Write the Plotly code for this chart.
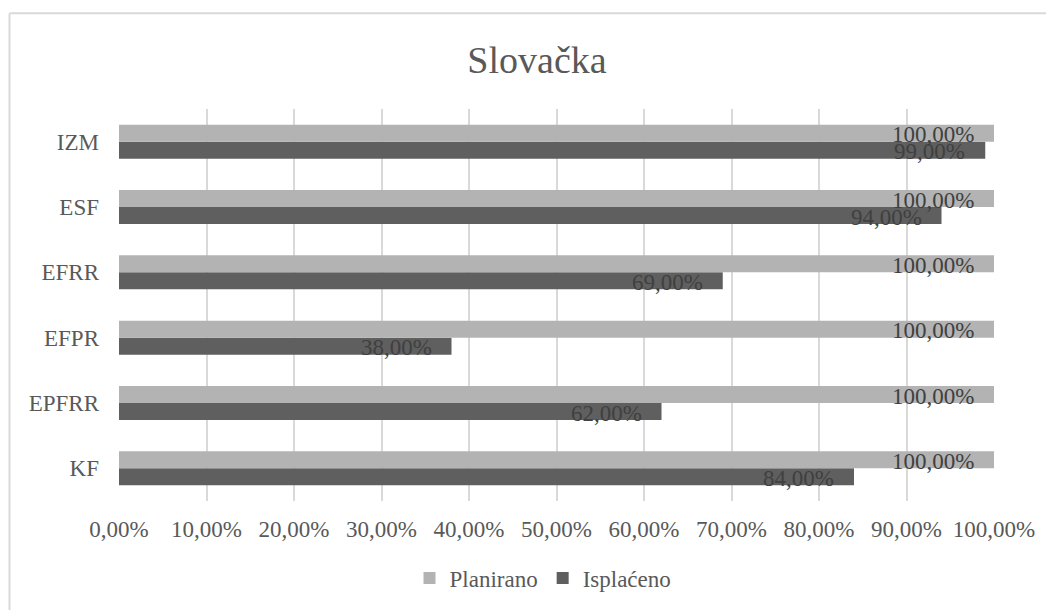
import plotly.graph_objects as go

categories = ["KF", "EPFRR", "EFPR", "EFRR", "ESF", "IZM"]
planirano = [100, 100, 100, 100, 100, 100]
isplaceno = [84, 62, 38, 69, 94, 99]
tick_vals = [0, 10, 20, 30, 40, 50, 60, 70, 80, 90, 100]
tick_text = [f"{v},00%" for v in tick_vals]

LIGHT = "#b3b3b3"
DARK = "#5f5f5f"
TXT = "#595959"
LBL = "#404040"
FONT = "Liberation Serif"

# page body adds an 8px offset; figure is sized to compensate
W, H = 1046, 602
L, T, R, B = 111, 101, 60, 108
PW = W - L - R
PH = H - T - B

fig = go.Figure()
fig.add_trace(go.Bar(y=categories, x=isplaceno, name="Isplaćeno", orientation="h",
                     marker=dict(color=DARK, line=dict(width=0))))
fig.add_trace(go.Bar(y=categories, x=planirano, name="Planirano", orientation="h",
                     marker=dict(color=LIGHT, line=dict(width=0))))

annotations = []
for c, p, i in zip(categories, planirano, isplaceno):
    annotations.append(dict(x=p, y=c, xref="x", yref="y", text=f"{p},00%", showarrow=False,
                            xanchor="right", yanchor="middle", xshift=-18, yshift=7,
                            font=dict(family=FONT, size=23, color=LBL)))
    annotations.append(dict(x=i, y=c, xref="x", yref="y", text=f"{i},00%", showarrow=False,
                            xanchor="right", yanchor="middle", xshift=-18, yshift=-10,
                            font=dict(family=FONT, size=23, color=LBL)))

bx = (1.5 - L) / PW
by = 1 + (T - 5) / PH

fig.update_layout(
    width=W, height=H,
    margin=dict(l=L, r=R, t=T, b=B),
    paper_bgcolor="white", plot_bgcolor="white",
    barmode="group", bargap=0.48, bargroupgap=0,
    title=dict(text="Slovačka", x=(537 - 8 - L) / PW, xanchor="center",
               y=1 - 52 / H, yanchor="middle", xref="paper", yref="container",
               font=dict(family=FONT, size=38, color=TXT)),
    font=dict(family=FONT, size=23, color=TXT),
    showlegend=True,
    legend=dict(orientation="h", x=(543 - 8 - L) / PW, xanchor="center",
                y=-(570 - T - PH) / PH, yanchor="middle",
                traceorder="reversed", font=dict(family=FONT, size=23, color=TXT),
                itemwidth=30, tracegroupgap=0),
    annotations=annotations,
    shapes=[
        dict(type="line", xref="paper", yref="paper", x0=bx, x1=1.2, y0=by, y1=by,
             line=dict(color="#d9d9d9", width=2)),
        dict(type="line", xref="paper", yref="paper", x0=bx, x1=bx, y0=by, y1=-0.5,
             line=dict(color="#d9d9d9", width=2)),
    ],
)
fig.update_xaxes(range=[0, 100], tickvals=tick_vals, ticktext=tick_text,
                 showgrid=True, gridcolor="#d9d9d9", gridwidth=1.5,
                 zeroline=False, showline=False, ticks="", ticklabelstandoff=12,
                 tickfont=dict(family=FONT, size=23, color=TXT))
fig.update_yaxes(categoryorder="array", categoryarray=categories,
                 showgrid=False, zeroline=False, showline=False, ticks="",
                 ticklabelstandoff=19,
                 tickfont=dict(family=FONT, size=23, color=TXT))

fig.write_html("out.html")
